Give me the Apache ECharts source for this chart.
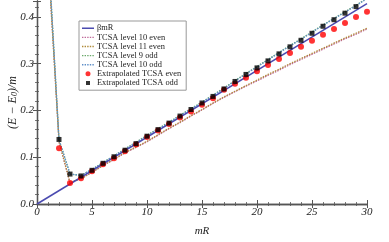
<!DOCTYPE html>
<html><head><meta charset="utf-8">
<script src="https://cdn.jsdelivr.net/npm/echarts@6/dist/echarts.min.js"></script>
<style>html,body{margin:0;padding:0;background:#fff}#c{width:389px;height:242px}</style>
</head><body><div id="c"></div>
<script>
// mR grid for TCSA curves and extrapolated points
const mR = [1,2,3,4,5,6,7,8,9,10,11,12,13,14,15,16,17,18,19,20,21,22,23,24,25,26,27,28,29,30];
const betaLineX = [0, 30];
const betaLineY = [0, 0.4285];
const tcsa10even = [0.53,0.133,0.045,0.054,0.068,0.082,0.095,0.109,0.121,0.133,0.147,0.161,0.174,0.188,0.201,0.215,0.228,0.240,0.252,0.263,0.275,0.286,0.298,0.309,0.320,0.331,0.342,0.353,0.363,0.374];
const tcsa11even = [0.53,0.134,0.046,0.054,0.068,0.082,0.096,0.110,0.122,0.134,0.148,0.162,0.175,0.189,0.202,0.216,0.229,0.241,0.253,0.265,0.277,0.288,0.300,0.311,0.322,0.333,0.344,0.355,0.365,0.376];
const tcsa9odd = [0.55,0.138,0.064,0.061,0.074,0.089,0.103,0.118,0.132,0.147,0.161,0.175,0.190,0.204,0.218,0.233,0.248,0.264,0.279,0.294,0.309,0.324,0.339,0.353,0.368,0.383,0.397,0.411,0.425,0.440];
const tcsa10odd = [0.55,0.138,0.064,0.061,0.074,0.088,0.103,0.117,0.131,0.146,0.160,0.174,0.189,0.203,0.217,0.232,0.247,0.263,0.278,0.293,0.308,0.323,0.338,0.352,0.367,0.382,0.396,0.410,0.424,0.439];
const extrapR = [2,3,4,5,6,7,8,9,10,11,12,13,14,15,16,17,18,19,20,21,22,23,24,25,26,27,28,29,30];
const extrapEven = [0.119,0.045,0.055,0.070,0.085,0.098,0.113,0.127,0.143,0.157,0.171,0.185,0.198,0.212,0.226,0.244,0.257,0.270,0.284,0.297,0.310,0.323,0.336,0.349,0.362,0.374,0.387,0.400,0.411];
const extrapOddR = [2,3,4,5,6,7,8,9,10,11,12,13,14,15,16,17,18,19,20,21,22,23,24,25,26,27,28,29];
const extrapOdd = [0.138,0.064,0.060,0.072,0.087,0.101,0.115,0.129,0.145,0.159,0.173,0.188,0.202,0.216,0.230,0.246,0.262,0.277,0.291,0.306,0.321,0.336,0.350,0.365,0.380,0.394,0.408,0.422];
const xTicks = [0,5,10,15,20,25,30];
const yTicks = [0.0,0.1,0.2,0.3,0.4];

const zip = (xs, ys) => xs.map((x, i) => [x, ys[i]]);
const serif = 'Liberation Serif';
const frame = '#555';
function axisCommon(showLabel, pos, isX) {
  return {
    type: 'value', position: pos,
    min: 0, max: isX ? 30 : 0.434, interval: isX ? 5 : 0.1,
    axisLine: {show: true, lineStyle: {color: frame, width: 1.3}},
    axisTick: {show: true, inside: true, length: 4, lineStyle: {color: frame, width: 1}},
    minorTick: {show: true, splitNumber: 5, length: 2, lineStyle: {color: frame, width: 0.8}},
    splitLine: {show: false},
    axisLabel: {show: showLabel, showMaxLabel: isX, fontFamily: serif, fontStyle: 'italic', fontSize: 11, color: '#222', margin: 3,
      formatter: v => isX ? String(v) : (Math.abs(v*10 - Math.round(v*10)) < 1e-6 ? v.toFixed(1) : '')}
  };
}
const dotted = 'path://M0,0h0.01v7h-0.01z M0,2.8h1.4v1.4h-1.4z M2.6,2.8h1.4v1.4h-1.4z M5.2,2.8h1.4v1.4h-1.4z M7.8,2.8h1.4v1.4h-1.4z M10.4,2.8h1.4v1.4h-1.4z M11.99,0h0.01v7h-0.01z';
const solidIcon = 'path://M0,0h0.01v7h-0.01z M0,2.7h12v1.6h-12z M11.99,0h0.01v7h-0.01z';
const circIcon = 'path://M0,0h0.01v7h-0.01z M3.5,3.5a2.5,2.5 0 1 0 5,0a2.5,2.5 0 1 0 -5,0z M11.99,0h0.01v7h-0.01z';
const sqIcon = 'path://M0,0h0.01v7h-0.01z M4,1.5h4v4h-4z M11.99,0h0.01v7h-0.01z';
const chart = echarts.init(document.getElementById('c'), null, {renderer: 'canvas'});
const lineSeries = (name, data, color) => ({
  name, type: 'line', data, symbol: 'none', xAxisIndex: 0, yAxisIndex: 0,
  lineStyle: {color, width: 1.3, type: [1.5, 1.2]}, itemStyle: {color}, z: 2, animation: false
});
chart.setOption({
  animation: false,
  grid: {left: 37, right: 22, top: 1, bottom: 38, containLabel: false, outerBoundsMode: 'none'},
  xAxis: [
    Object.assign(axisCommon(true, 'bottom', true), {name: 'mR', nameLocation: 'middle', nameGap: 22, nameMoveOverlap: false,
      nameTextStyle: {fontFamily: serif, fontStyle: 'italic', fontSize: 11, color: '#222'}}),
    Object.assign(axisCommon(false, 'top', true), {})
  ],
  yAxis: [
    Object.assign(axisCommon(true, 'left', false), {name: '{a|(E − E}{s|0}{a|)/m}', nameLocation: 'middle', nameGap: 18, nameRotate: 90, nameMoveOverlap: false,
      nameTextStyle: {rich: {a: {fontFamily: serif, fontStyle: 'italic', fontSize: 12, color: '#222'}, s: {fontFamily: serif, fontStyle: 'italic', fontSize: 8, color: '#222', verticalAlign: 'bottom', padding: [5,0,0,0]}}}}),
    Object.assign(axisCommon(false, 'right', false), {})
  ],
  legend: {
    orient: 'vertical', left: 79, top: 21,
    padding: [3, 5, 3, 3], itemGap: 0.5, itemWidth: 12, itemHeight: 7,
    borderColor: '#999', borderWidth: 1, backgroundColor: '#fff',
    textStyle: {fontFamily: serif, fontSize: 8.4, lineHeight: 8.6, color: '#222', padding: [0,0,0,-2]},
    data: [
      {name: 'βmR', icon: solidIcon},
      {name: 'TCSA level 10 even', icon: dotted},
      {name: 'TCSA level 11 even', icon: dotted},
      {name: 'TCSA level 9 odd', icon: dotted},
      {name: 'TCSA level 10 odd', icon: dotted},
      {name: 'Extrapolated TCSA even', icon: circIcon, itemStyle: {color: '#f00'}},
      {name: 'Extrapolated TCSA odd', icon: sqIcon, itemStyle: {color: '#000'}}
    ]
  },
  series: [
    {name: 'βmR', type: 'line', data: zip(betaLineX, betaLineY), symbol: 'none',
      lineStyle: {color: '#4b4bb0', width: 1.5}, itemStyle: {color: '#4b4bb0'}, z: 3},
    lineSeries('TCSA level 10 even', zip(mR, tcsa10even), '#c06a9a'),
    lineSeries('TCSA level 11 even', zip(mR, tcsa11even), '#b08a3a'),
    lineSeries('TCSA level 9 odd', zip(mR, tcsa9odd), '#6aa86a'),
    lineSeries('TCSA level 10 odd', zip(mR, tcsa10odd), '#5f8fc8'),
    {name: 'Extrapolated TCSA even', type: 'scatter', data: zip(extrapR, extrapEven), symbol: 'circle', symbolSize: 6,
      itemStyle: {color: '#f00'}, z: 4},
    {name: 'Extrapolated TCSA odd', type: 'scatter', data: zip(extrapOddR, extrapOdd), symbol: 'rect', symbolSize: 5,
      itemStyle: {color: '#000'}, z: 5}
  ]
});
</script></body></html>
